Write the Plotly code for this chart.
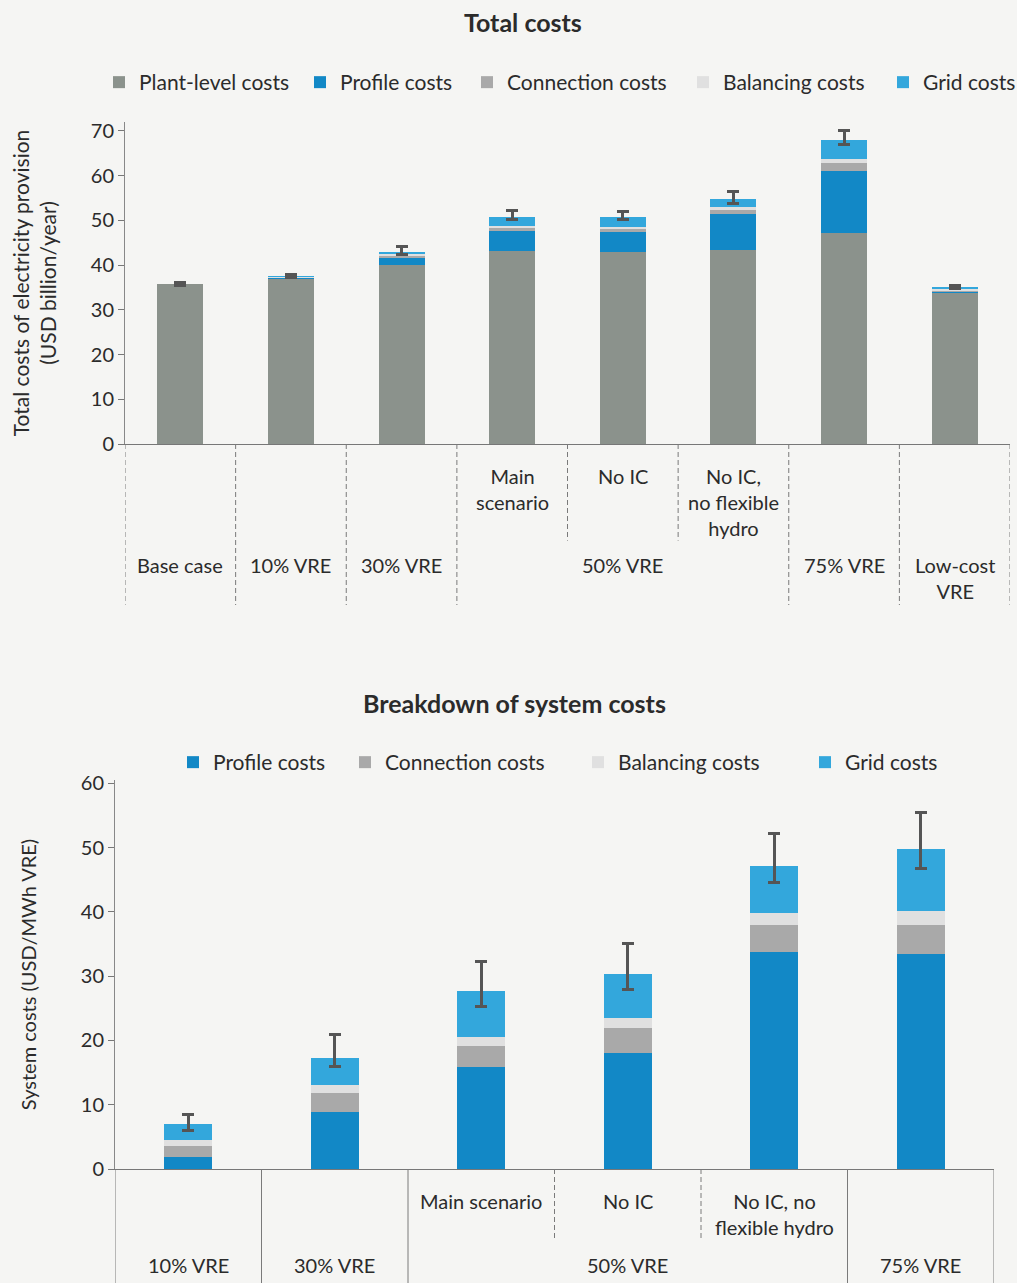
import plotly.graph_objects as go

# ---- Total costs (USD billion/year) ----
top_categories = ["Base case", "10% VRE", "30% VRE", "Main scenario", "No IC",
                  "No IC, no flexible hydro", "75% VRE", "Low-cost VRE"]
top_plant = [35.8, 37.0, 40.1, 43.2, 42.9, 43.4, 47.1, 33.9]
top_profile = [0.0, 0.2, 1.6, 4.4, 4.5, 8.0, 14.0, 0.3]
top_connection = [0.0, 0.1, 0.4, 0.7, 0.6, 0.9, 1.7, 0.2]
top_balancing = [0.0, 0.05, 0.3, 0.5, 0.5, 0.6, 0.9, 0.3]
top_grid = [0.0, 0.1, 0.6, 1.9, 2.2, 1.9, 4.3, 0.4]
top_err_plus = [0.3, 0.4, 1.2, 1.5, 1.3, 1.6, 2.2, 0.4]
top_err_minus = [0.3, 0.3, 0.6, 0.6, 0.6, 1.0, 1.0, 0.3]

# axis label rows for the top chart
top_sub_labels = ["", "", "", "Main<br>scenario", "No IC", "No IC,<br>no flexible<br>hydro", "", ""]
top_group_labels = ["Base case", "10% VRE", "30% VRE", "50% VRE", "75% VRE", "Low-cost<br>VRE"]
top_group_anchor = ["Base case", "10% VRE", "30% VRE", "No IC", "75% VRE", "Low-cost VRE"]
top_full_lines = [-0.5, 0.5, 1.5, 2.5, 5.5, 6.5, 7.5]
top_short_lines = [3.5, 4.5]

# ---- Breakdown of system costs (USD/MWh VRE) ----
bot_categories = ["10% VRE", "30% VRE", "Main scenario", "No IC",
                  "No IC, no flexible hydro", "75% VRE"]
bot_profile = [1.9, 8.9, 15.8, 18.1, 33.7, 33.4]
bot_connection = [1.7, 2.9, 3.4, 3.8, 4.3, 4.5]
bot_balancing = [0.9, 1.3, 1.4, 1.6, 1.8, 2.2]
bot_grid = [2.5, 4.1, 7.1, 6.9, 7.3, 9.7]
bot_err_plus = [1.4, 3.7, 4.6, 4.6, 5.1, 5.6]
bot_err_minus = [1.0, 1.3, 2.5, 2.5, 2.6, 3.0]

bot_sub_labels = ["", "", "Main scenario", "No IC", "No IC, no<br>flexible hydro", ""]
bot_group_labels = ["10% VRE", "30% VRE", "50% VRE", "75% VRE"]
bot_group_anchor = ["10% VRE", "30% VRE", "No IC", "75% VRE"]
bot_full_lines = [-0.5, 0.5, 1.5, 4.5, 5.5]
bot_short_lines = [2.5, 3.5]

# ---- styling ----
FONT = "Lato, 'Open Sans', sans-serif"
TEXT = "#2b2b2b"
C_PLANT = "#8b928c"
C_PROFILE = "#1288c6"
C_CONN = "#a9a9a9"
C_BAL = "#e0e0e0"
C_GRID = "#33a7dc"
C_ERR = "#555555"
BG = "#f5f5f3"

W, H = 1017, 1283

def px_y(p):
    return 1 - p / H

fig = go.Figure()

# each legend entry gets its own legend box so the entries sit where they should
top_legend_x = [99, 300, 467, 683, 883]
bot_legend_x = [173, 345, 578, 805]

def add_stack(x, series, axis, legend_ids, width, err_plus, err_minus):
    xa, ya = axis
    n = len(series)
    for i, (name, vals, color) in enumerate(series):
        kw = {}
        if i == n - 1:
            kw["error_y"] = dict(type="data", symmetric=False, array=err_plus,
                                 arrayminus=err_minus, color=C_ERR, thickness=3, width=6)
        fig.add_trace(go.Bar(x=x, y=vals, name=name, marker=dict(color=color, line=dict(width=0)),
                             width=width, xaxis=xa, yaxis=ya, legend=legend_ids[i], **kw))

top_ids = ["legend", "legend2", "legend3", "legend4", "legend5"]
bot_ids = ["legend6", "legend7", "legend8", "legend9"]

add_stack(top_categories,
          [("Plant-level costs", top_plant, C_PLANT),
           ("Profile costs", top_profile, C_PROFILE),
           ("Connection costs", top_connection, C_CONN),
           ("Balancing costs", top_balancing, C_BAL),
           ("Grid costs", top_grid, C_GRID)],
          ("x", "y"), top_ids, 0.415, top_err_plus, top_err_minus)

add_stack(bot_categories,
          [("Profile costs", bot_profile, C_PROFILE),
           ("Connection costs", bot_connection, C_CONN),
           ("Balancing costs", bot_balancing, C_BAL),
           ("Grid costs", bot_grid, C_GRID)],
          ("x2", "y2"), bot_ids, 0.33, bot_err_plus, bot_err_minus)

annotations = []
shapes = []

# titles
annotations.append(dict(text="<b>Total costs</b>", x=523 / W, y=px_y(22), xref="paper", yref="paper",
                        xanchor="center", yanchor="middle", showarrow=False,
                        font=dict(size=25, color=TEXT, family=FONT)))
annotations.append(dict(text="<b>Breakdown of system costs</b>", x=514 / W, y=px_y(703), xref="paper",
                        yref="paper", xanchor="center", yanchor="middle", showarrow=False,
                        font=dict(size=25, color=TEXT, family=FONT)))

lab_font = dict(size=20, color=TEXT, family=FONT)
sep = dict(color="#7a7a7a", width=1, dash="5px,3px")

# top chart category labels and separators
for cat, lab in zip(top_categories, top_sub_labels):
    if lab:
        annotations.append(dict(text=lab, x=cat, y=-0.055, xref="x", yref="y domain",
                                yanchor="top", showarrow=False, font=lab_font))
for cat, lab in zip(top_group_anchor, top_group_labels):
    annotations.append(dict(text=lab, x=cat, y=-0.333, xref="x", yref="y domain",
                            yanchor="top", showarrow=False, font=lab_font))
for xv in top_full_lines:
    shapes.append(dict(type="line", x0=xv, x1=xv, y0=0, y1=-0.5, xref="x", yref="y domain", line=sep))
for xv in top_short_lines:
    shapes.append(dict(type="line", x0=xv, x1=xv, y0=0, y1=-0.3, xref="x", yref="y domain", line=sep))

# bottom chart category labels and separators
for cat, lab in zip(bot_categories, bot_sub_labels):
    if lab:
        annotations.append(dict(text=lab, x=cat, y=-0.046, xref="x2", yref="y2 domain",
                                yanchor="top", showarrow=False, font=lab_font))
for cat, lab in zip(bot_group_anchor, bot_group_labels):
    annotations.append(dict(text=lab, x=cat, y=-0.212, xref="x2", yref="y2 domain",
                            yanchor="top", showarrow=False, font=lab_font))
for xv in bot_full_lines:
    shapes.append(dict(type="line", x0=xv, x1=xv, y0=0, y1=-0.32, xref="x2", yref="y2 domain",
                       line=dict(color="#7a7a7a", width=1)))
for xv in bot_short_lines:
    shapes.append(dict(type="line", x0=xv, x1=xv, y0=0, y1=-0.185, xref="x2", yref="y2 domain", line=sep))

tick_font = dict(size=20, color=TEXT, family=FONT)
xcommon = dict(type="category", showticklabels=False, ticks="", showline=True, linecolor="#777777",
               linewidth=1, showgrid=False, zeroline=False, fixedrange=True, automargin=False)
ycommon = dict(showline=True, linecolor="#888888", linewidth=1, ticks="outside", ticklen=6,
               tickcolor="#777777", showgrid=False, zeroline=False, tickfont=tick_font, dtick=10,
               automargin=False)

legend_font = dict(size=21, color=TEXT, family=FONT)
legends = {}
for lid, lx in zip(top_ids, top_legend_x):
    legends[lid] = dict(orientation="h", x=lx / W, xanchor="left", y=px_y(62), yanchor="top",
                        font=legend_font, bgcolor="rgba(0,0,0,0)")
for lid, lx in zip(bot_ids, bot_legend_x):
    legends[lid] = dict(orientation="h", x=lx / W, xanchor="left", y=px_y(742), yanchor="top",
                        font=legend_font, bgcolor="rgba(0,0,0,0)")

fig.update_layout(
    width=W, height=H,
    margin=dict(l=0, r=0, t=0, b=0, autoexpand=False),
    paper_bgcolor=BG, plot_bgcolor=BG,
    font=dict(family=FONT, color=TEXT),
    barmode="stack",
    bargap=0,
    xaxis=dict(domain=[125 / W, 1010 / W], anchor="y", range=[-0.5, 7.5], **xcommon),
    yaxis=dict(domain=[px_y(444), px_y(122)], anchor="x", range=[0, 72],
               title=dict(text="Total costs of electricity provision<br>(USD billion/year)",
                          font=dict(size=21, color=TEXT, family=FONT), standoff=28),
               **ycommon),
    xaxis2=dict(domain=[115 / W, 994 / W], anchor="y2", range=[-0.5, 5.5], **xcommon),
    yaxis2=dict(domain=[px_y(1169), px_y(780)], anchor="x2", range=[0, 60.5],
                title=dict(text="System costs (USD/MWh VRE)",
                           font=dict(size=20, color=TEXT, family=FONT), standoff=38),
                **ycommon),
    annotations=annotations,
    shapes=shapes,
    showlegend=True,
    **legends,
)

fig.write_html("out.html")
